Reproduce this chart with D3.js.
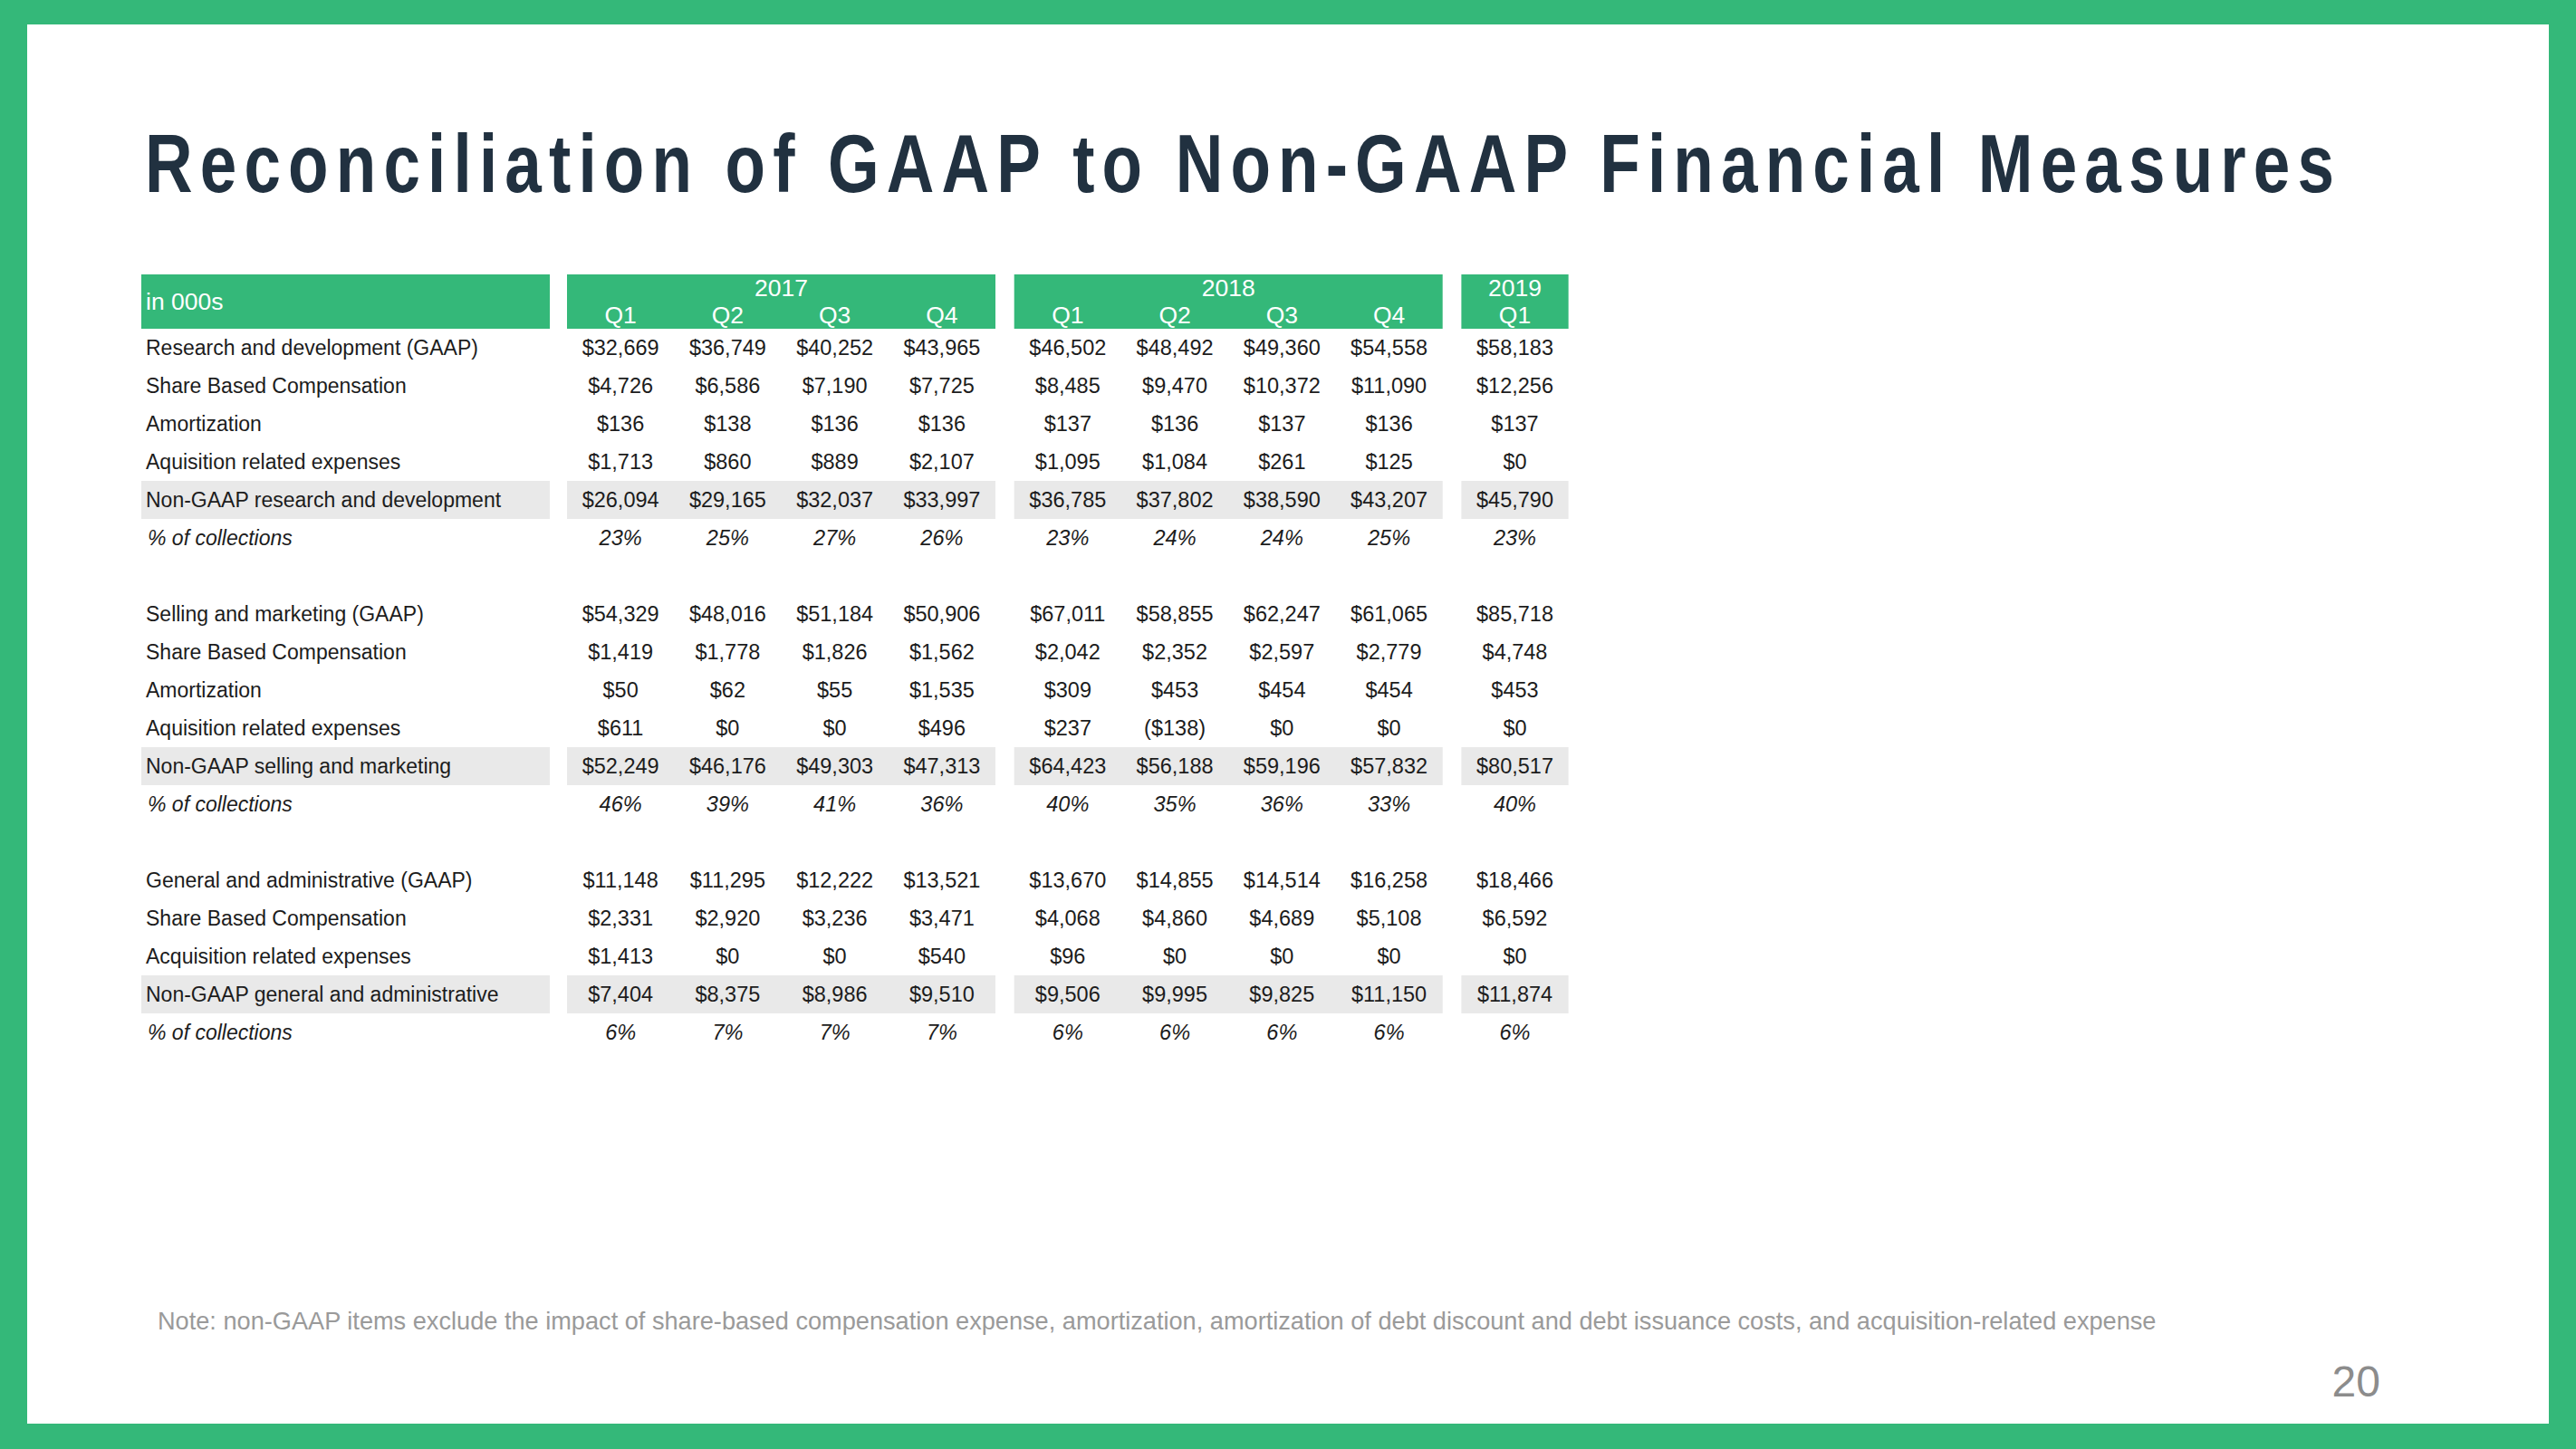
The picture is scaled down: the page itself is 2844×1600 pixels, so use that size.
<!DOCTYPE html>
<html><head><meta charset="utf-8">
<script src="https://cdn.jsdelivr.net/npm/d3@7/dist/d3.min.js"></script>
<style>html,body{margin:0;padding:0;background:#fff;overflow:hidden}</style>
</head><body><svg id="c"></svg>
<script>
// ---------- data ----------
const titleText = "Reconciliation of GAAP to Non-GAAP Financial Measures";
const unitLabel = "in 000s";
const years = ["2017", "2018", "2019"];
const quarters = ["Q1", "Q2", "Q3", "Q4", "Q1", "Q2", "Q3", "Q4", "Q1"];
const quarterYear = [0, 0, 0, 0, 1, 1, 1, 1, 2];

const rdGaap    = [32669, 36749, 40252, 43965, 46502, 48492, 49360, 54558, 58183];
const rdSbc     = [4726, 6586, 7190, 7725, 8485, 9470, 10372, 11090, 12256];
const rdAmort   = [136, 138, 136, 136, 137, 136, 137, 136, 137];
const rdAcq     = [1713, 860, 889, 2107, 1095, 1084, 261, 125, 0];
const rdNonGaap = [26094, 29165, 32037, 33997, 36785, 37802, 38590, 43207, 45790];
const rdPct     = [23, 25, 27, 26, 23, 24, 24, 25, 23];

const smGaap    = [54329, 48016, 51184, 50906, 67011, 58855, 62247, 61065, 85718];
const smSbc     = [1419, 1778, 1826, 1562, 2042, 2352, 2597, 2779, 4748];
const smAmort   = [50, 62, 55, 1535, 309, 453, 454, 454, 453];
const smAcq     = [611, 0, 0, 496, 237, -138, 0, 0, 0];
const smNonGaap = [52249, 46176, 49303, 47313, 64423, 56188, 59196, 57832, 80517];
const smPct     = [46, 39, 41, 36, 40, 35, 36, 33, 40];

const gaGaap    = [11148, 11295, 12222, 13521, 13670, 14855, 14514, 16258, 18466];
const gaSbc     = [2331, 2920, 3236, 3471, 4068, 4860, 4689, 5108, 6592];
const gaAcq     = [1413, 0, 0, 540, 96, 0, 0, 0, 0];
const gaNonGaap = [7404, 8375, 8986, 9510, 9506, 9995, 9825, 11150, 11874];
const gaPct     = [6, 7, 7, 7, 6, 6, 6, 6, 6];

const noteText = "Note: non-GAAP items exclude the impact of share-based compensation expense, amortization, amortization of debt discount and debt issuance costs, and acquisition-related expense";
const pageNumber = "20";

const rows = [
  {label: "Research and development (GAAP)", values: rdGaap, kind: "v"},
  {label: "Share Based Compensation", values: rdSbc, kind: "v"},
  {label: "Amortization", values: rdAmort, kind: "v"},
  {label: "Aquisition related expenses", values: rdAcq, kind: "v"},
  {label: "Non-GAAP research and development", values: rdNonGaap, kind: "t"},
  {label: "% of collections", values: rdPct, kind: "p"},
  {label: "", values: null, kind: "b"},
  {label: "Selling and marketing (GAAP)", values: smGaap, kind: "v"},
  {label: "Share Based Compensation", values: smSbc, kind: "v"},
  {label: "Amortization", values: smAmort, kind: "v"},
  {label: "Aquisition related expenses", values: smAcq, kind: "v"},
  {label: "Non-GAAP selling and marketing", values: smNonGaap, kind: "t"},
  {label: "% of collections", values: smPct, kind: "p"},
  {label: "", values: null, kind: "b"},
  {label: "General and administrative (GAAP)", values: gaGaap, kind: "v"},
  {label: "Share Based Compensation", values: gaSbc, kind: "v"},
  {label: "Acquisition related expenses", values: gaAcq, kind: "v"},
  {label: "Non-GAAP general and administrative", values: gaNonGaap, kind: "t"},
  {label: "% of collections", values: gaPct, kind: "p"}
];

// ---------- layout ----------
const W = 2844, H = 1600;
const GREEN = "#34b879", GREY = "#e9e9e9", TEXT = "#1c1c1c", TITLE = "#213140";
const FONT = "'Liberation Sans', Arial, sans-serif";
const svg = d3.select("#c").attr("width", W).attr("height", H);

svg.append("rect").attr("width", W).attr("height", H).attr("fill", GREEN);
svg.append("rect").attr("x", 30).attr("y", 27).attr("width", 2814 - 30).attr("height", 1572 - 27).attr("fill", "#fff");

// title: condensed bold with wide tracking, fitted to reference width
const sx = 0.8;
const title = svg.append("text").attr("x", 0).attr("y", 0)
  .attr("transform", `translate(160,212) scale(${sx},1)`)
  .attr("font-family", FONT).attr("font-weight", "bold").attr("font-size", 91)
  .attr("fill", TITLE).text(titleText);
const natural = title.node().getComputedTextLength();
title.attr("letter-spacing", (2417 / sx - natural) / (titleText.length - 1));

// scales
const gapSlots = 0.175;
const slot = i => i + quarterYear[i] * gapSlots;
const xs = d3.scaleLinear().domain([0, 1]).range([626, 626 + 118.25]);
const colW = xs(1) - xs(0);
const colCenter = i => xs(slot(i)) + colW / 2;
const y = d3.scaleBand().domain(d3.range(rows.length)).range([363, 363 + 42 * rows.length]);
const labelX0 = 156, labelX1 = 607;

const groups = years.map((yr, g) => {
  const idx = quarters.map((q, i) => i).filter(i => quarterYear[i] === g);
  return {year: yr, x0: xs(slot(idx[0])), x1: xs(slot(idx[idx.length - 1])) + colW, idx};
});

// header
const hdrY0 = 303, hdrY1 = 363, HFS = 26.5;
svg.append("rect").attr("x", labelX0).attr("y", hdrY0).attr("width", labelX1 - labelX0).attr("height", hdrY1 - hdrY0).attr("fill", GREEN);
svg.append("text").attr("x", 161).attr("y", 342).attr("font-family", FONT).attr("font-size", HFS)
  .attr("fill", "#fff").text(unitLabel);
svg.selectAll("rect.grp").data(groups).join("rect").attr("class", "grp")
  .attr("x", d => d.x0).attr("y", hdrY0).attr("width", d => d.x1 - d.x0).attr("height", hdrY1 - hdrY0).attr("fill", GREEN);
svg.selectAll("text.yr").data(groups).join("text").attr("class", "yr")
  .attr("x", d => (d.x0 + d.x1) / 2).attr("y", 327).attr("text-anchor", "middle")
  .attr("font-family", FONT).attr("font-size", HFS).attr("fill", "#fff").text(d => d.year);
svg.selectAll("text.q").data(quarters).join("text").attr("class", "q")
  .attr("x", (d, i) => colCenter(i)).attr("y", 357).attr("text-anchor", "middle")
  .attr("font-family", FONT).attr("font-size", HFS).attr("fill", "#fff").text(d => d);

// grey bands for Non-GAAP rows
const totalRows = rows.map((r, i) => ({r, i})).filter(d => d.r.kind === "t");
totalRows.forEach(d => {
  svg.append("rect").attr("x", labelX0).attr("y", y(d.i)).attr("width", labelX1 - labelX0).attr("height", y.bandwidth()).attr("fill", GREY);
  groups.forEach(g => svg.append("rect").attr("x", g.x0).attr("y", y(d.i)).attr("width", g.x1 - g.x0).attr("height", y.bandwidth()).attr("fill", GREY));
});

// rows
const fmtMoney = v => v < 0 ? "(" + d3.format("$,")(-v) + ")" : d3.format("$,")(v);
const fmtPct = v => v + "%";
rows.forEach((r, ri) => {
  if (r.kind === "b") return;
  const by = y(ri) + y.bandwidth() / 2 + 8;
  const italic = r.kind === "p";
  svg.append("text").attr("x", italic ? 163 : 161).attr("y", by)
    .attr("font-family", FONT).attr("font-size", 23).attr("font-style", italic ? "italic" : "normal")
    .attr("fill", TEXT).text(r.label);
  svg.append("g").selectAll("text").data(r.values).join("text")
    .attr("x", (d, i) => colCenter(i)).attr("y", by).attr("text-anchor", "middle")
    .attr("font-family", FONT).attr("font-size", 23.5).attr("font-style", italic ? "italic" : "normal")
    .attr("fill", TEXT).text(d => italic ? fmtPct(d) : fmtMoney(d));
});

// note, fitted to reference width
const note = svg.append("text").attr("x", 174).attr("y", 1468).attr("font-family", FONT)
  .attr("font-size", 24).attr("fill", "#9a9a9a").text(noteText);
const nw = note.node().getComputedTextLength();
note.attr("font-size", 24 * 2208 / nw);

// page number
svg.append("text").attr("x", 2628).attr("y", 1542).attr("text-anchor", "end").attr("font-family", FONT)
  .attr("font-size", 48).attr("fill", "#8c8c8c").text(pageNumber);
</script></body></html>
